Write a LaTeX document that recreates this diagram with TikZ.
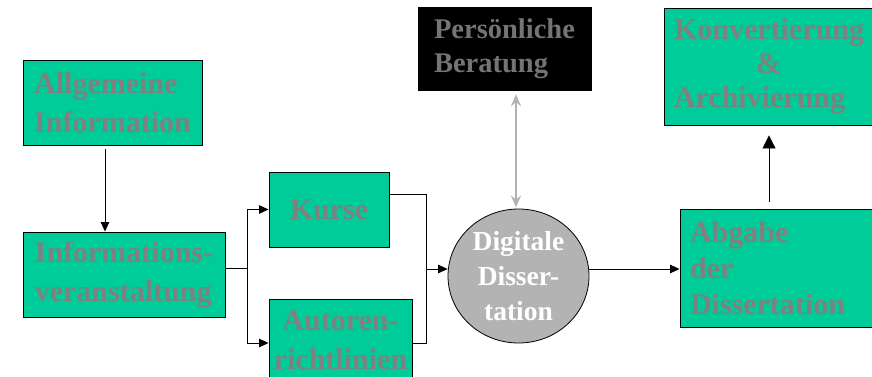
\documentclass[tikz,border=0pt]{standalone}
\usepackage{fontspec}
\setmainfont{Liberation Serif}
\usetikzlibrary{arrows.meta,calc,shapes.geometric}
\definecolor{boxgreen}{HTML}{00CC99}
\definecolor{txtgray}{HTML}{808080}
\definecolor{persgray}{HTML}{747474}
\definecolor{circgray}{HTML}{B3B3B3}
\definecolor{arrgray}{HTML}{B3B3B3}
\begin{document}
\begin{tikzpicture}[x=1pt,y=-1pt,
  gbox/.style={draw=black, line width=0.9pt, fill=boxgreen, text=txtgray, inner sep=0pt, align=left},
  bigfont/.style={font=\fontsize{30}{39}\selectfont\bfseries},
  conn/.style={draw=black, line width=0.9pt},
  arr/.style={conn, -{Triangle[length=9.5pt,width=8.5pt]}},
  bigarr/.style={conn, -{Triangle[length=13pt,width=13pt]}},
  garr/.style={draw=arrgray, line width=1.6pt, {Stealth[length=12pt,width=10pt,inset=4pt]}-{Stealth[length=12pt,width=10pt,inset=4pt]}}]
\fill[white] (0,0) rectangle (872,377);
\useasboundingbox (0,0) rectangle (872,377);
\clip (0,0) rectangle (872,377);

\node[gbox, bigfont, minimum width=179pt, minimum height=85pt] (allg) at (112.5,102.5) {Allgemeine\\Information};
\node[gbox, bigfont, minimum width=202pt, minimum height=85pt] (infov) at (124,274.5) {Informations-\\veranstaltung};
\node[gbox, bigfont, minimum width=120pt, minimum height=75pt] (kurse) at (329,209.5) {Kurse};
\node[gbox, bigfont, align=center, minimum width=143pt, minimum height=82pt] (autor) at (340.5,340) {Autoren-\\richtlinien};
\node[draw=black, fill=black, text=persgray, inner sep=0pt, align=left, font=\fontsize{28.5}{34}\selectfont\bfseries, minimum width=173pt, minimum height=83pt] (pers) at (504.5,48.5) {Persönliche\\Beratung};
\node[ellipse, draw=black, line width=0.8pt, fill=circgray, text=white, inner sep=0pt, align=center, font=\fontsize{27.5}{35}\selectfont\bfseries, minimum width=141pt, minimum height=134pt] (circ) at (518.5,276) {Digitale\\Disser-\\tation};
\node[gbox, font=\fontsize{30}{34}\selectfont\bfseries, text width=190pt, inner xsep=10pt, minimum height=117pt] (konv) at (769,66.5) {Konvertierung\\\hspace*{82pt}\&\\Archivierung};
\node[gbox, font=\fontsize{30}{36}\selectfont\bfseries, text width=182pt, inner xsep=10pt, minimum height=118pt] (abg) at (781,268) {Abgabe\\der\\Dissertation};

\draw[arr, shorten <=4pt] ([xshift=-7.5pt]allg.south) -- ([xshift=-7.5pt]allg.south |- infov.north);

\coordinate (b) at (247,268);
\draw[conn] ([yshift=6.5pt]infov.east) -- (b);
\draw[arr] (b) |- (kurse.west);
\draw[arr] (b) |- ([yshift=-3pt]autor.west);

\coordinate (m) at (426,269);
\draw[conn] ([yshift=15.5pt]kurse.east) -| (m);
\draw[conn] ([yshift=-3pt]autor.east) -| (m);
\draw[arr] (m) -- (m -| circ.west);
\draw[arr] (m -| circ.east) -- (m -| abg.west);

\draw[bigarr, shorten <=7pt, shorten >=10pt] (konv.south |- abg.north) -- (konv.south);
\draw[garr, shorten <=4pt, shorten >=1pt] ([xshift=-2.5pt]pers.south -| circ.north) -- ([xshift=-2.5pt]circ.north);
\end{tikzpicture}
\end{document}
